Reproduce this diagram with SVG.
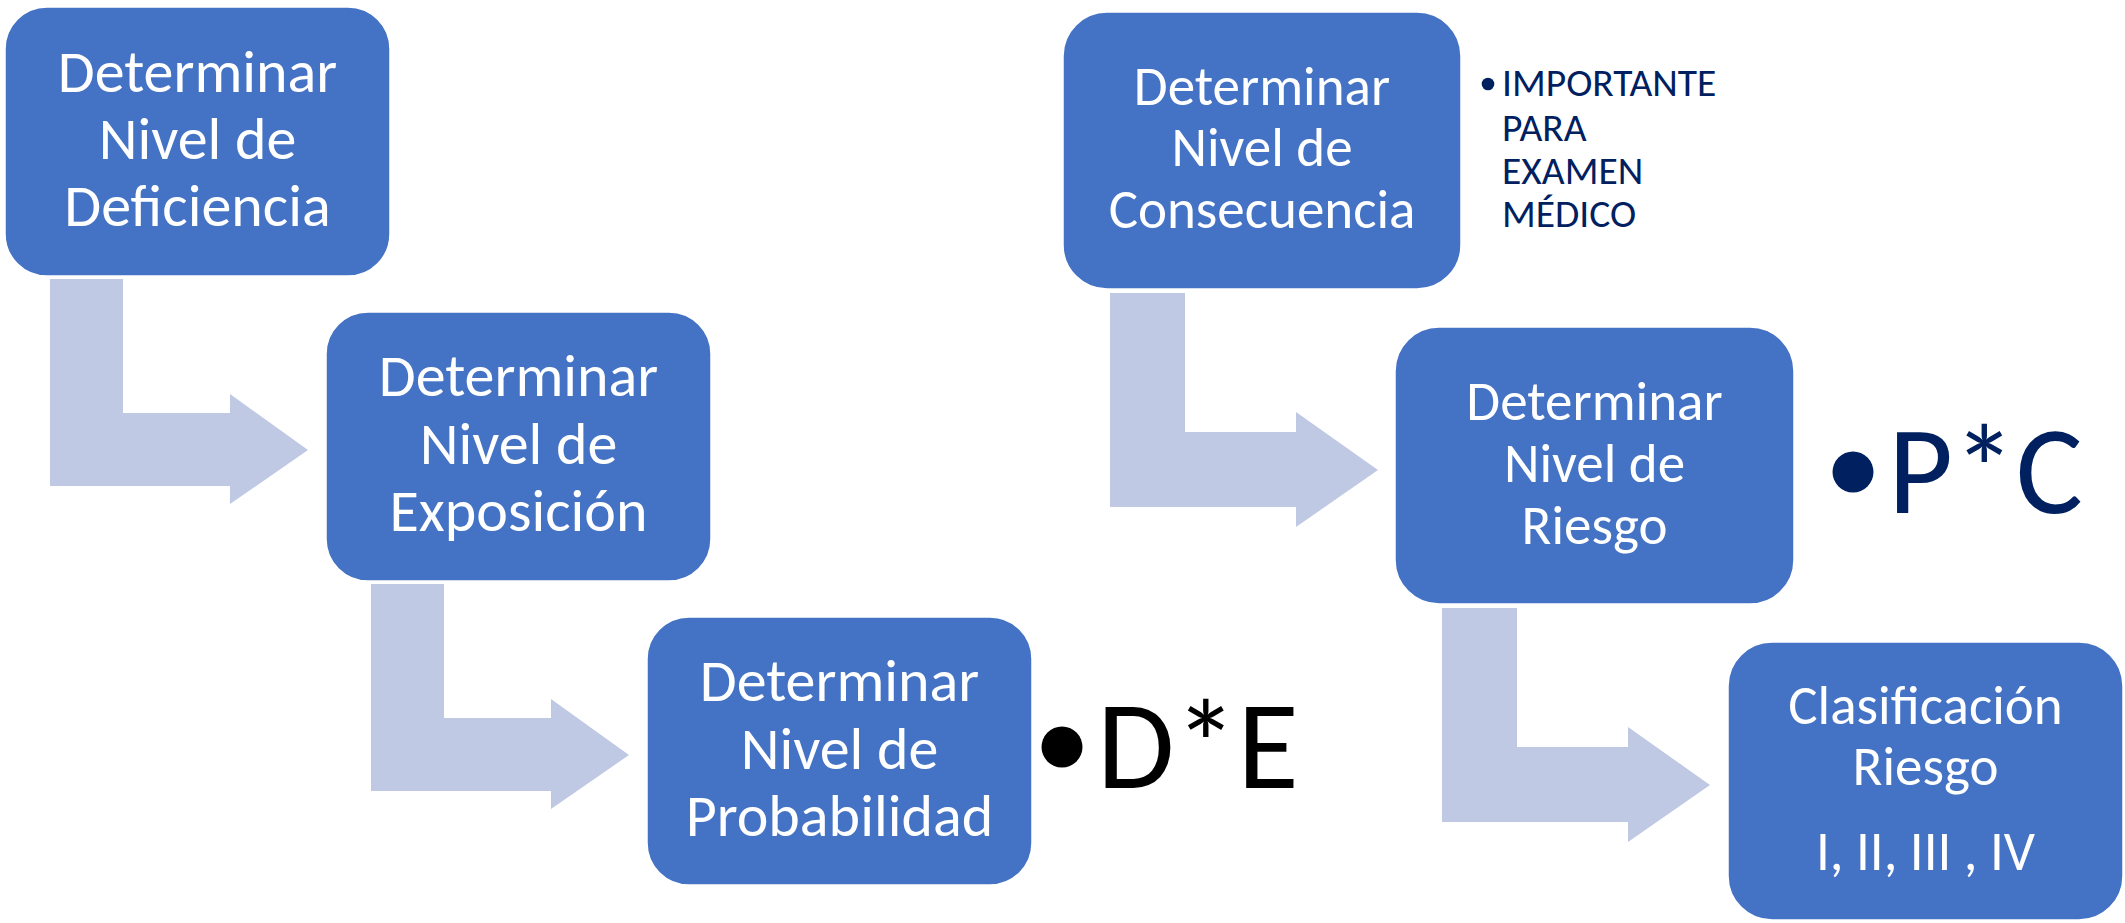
<svg xmlns="http://www.w3.org/2000/svg" width="2125" height="923" viewBox="0 0 2125 923">
<style>
.box{fill:#4472C4;stroke:#ffffff;stroke-width:1.5}
.arr{fill:#BFC9E4}
.t{font-family:Carlito,Calibri,Lato,"Liberation Sans",sans-serif;fill:#ffffff;text-anchor:middle}
.l{font-size:60px}
.r{font-size:55px}
.big{font-family:Carlito,Calibri,Lato,"Liberation Sans",sans-serif;font-size:126px}
.note{font-family:Carlito,Calibri,Lato,"Liberation Sans",sans-serif;font-size:39.5px;fill:#002060}
</style>
<rect width="2125" height="923" fill="#ffffff"/>
<g id="connectors">
<polygon class="arr" points="50,279 123,279 123,413 230,413 230,394 308,450 230,504 230,486 50,486"/>
<polygon class="arr" points="371,584 444,584 444,718 551,718 551,699 629,755 551,809 551,791 371,791"/>
<polygon class="arr" points="1110,293 1185,293 1185,432 1296,432 1296,412 1378,470 1296,527 1296,507 1110,507"/>
<polygon class="arr" points="1442,608 1517,608 1517,747 1628,747 1628,727 1710,785 1628,842 1628,822 1442,822"/>
</g>
<g id="n1">
<rect class="box" x="5" y="7" width="385" height="269" rx="42"/>
<text class="t l" x="197.5" y="92">Determinar</text>
<text class="t l" x="197.5" y="159">Nivel de</text>
<text class="t l" x="197.5" y="226">Deficiencia</text>
</g>
<g id="n2">
<rect class="box" x="326" y="312" width="385" height="269" rx="42"/>
<text class="t l" x="518.5" y="396">Determinar</text>
<text class="t l" x="518.5" y="464">Nivel de</text>
<text class="t l" x="518.5" y="531">Exposición</text>
</g>
<g id="n3">
<rect class="box" x="647" y="617" width="385" height="268" rx="42"/>
<text class="t l" x="839.5" y="701">Determinar</text>
<text class="t l" x="839.5" y="769">Nivel de</text>
<text class="t l" x="839.5" y="836">Probabilidad</text>
</g>
<g id="n3-note">
<circle cx="1062" cy="747" r="20.5" fill="#000000"/>
<text class="big" x="1097" y="788" fill="#000000">D*E</text>
</g>
<g id="n4">
<rect class="box" x="1063" y="12" width="398" height="277" rx="44"/>
<text class="t r" x="1262" y="105">Determinar</text>
<text class="t r" x="1262" y="166">Nivel de</text>
<text class="t r" x="1262" y="227.5">Consecuencia</text>
</g>
<g id="n4-note">
<circle cx="1488" cy="84" r="6.3" fill="#002060"/>
<text class="note" x="1502" y="96">IMPORTANTE</text>
<text class="note" x="1502" y="140.5">PARA</text>
<text class="note" x="1502" y="184">EXAMEN</text>
<text class="note" x="1502" y="227">MÉDICO</text>
</g>
<g id="n5">
<rect class="box" x="1395" y="327" width="399" height="277" rx="44"/>
<text class="t r" x="1594.5" y="420">Determinar</text>
<text class="t r" x="1594.5" y="481.5">Nivel de</text>
<text class="t r" x="1594.5" y="543.5">Riesgo</text>
</g>
<g id="n5-note">
<circle cx="1853" cy="472" r="20.5" fill="#002060"/>
<text class="big" x="1888" y="513" fill="#002060">P*C</text>
</g>
<g id="n6">
<rect class="box" x="1728" y="642" width="395" height="278" rx="44"/>
<text class="t r" x="1925.5" y="724">Clasificación</text>
<text class="t r" x="1925.5" y="785">Riesgo</text>
<text class="t r" x="1925.5" y="870">I, II, III , IV</text>
</g>
</svg>
